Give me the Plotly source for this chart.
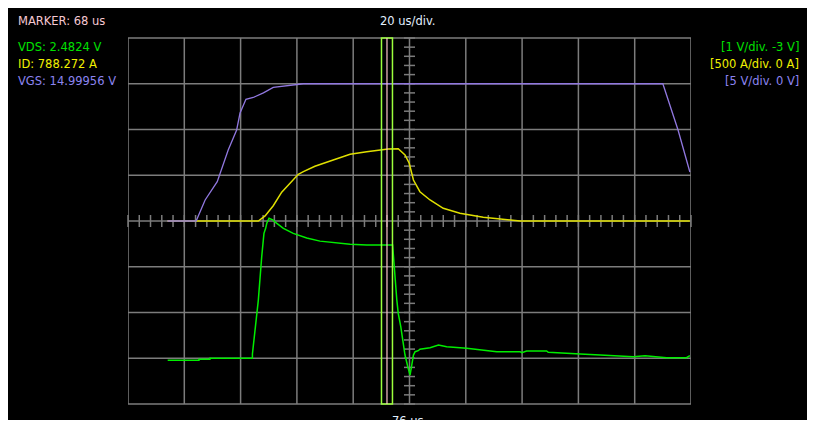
import plotly.graph_objects as go

# ---------------- data ----------------
vds_t = [-9.9, 1.2, 1.2, 5.1, 5.1, 20.2, 20.2, 20.5, 20.9, 21.2, 21.6, 21.9, 22.3, 23.5, 23.8,
         24.1, 24.3, 24.9, 25.3, 26.1, 27.6, 28.2, 31.2, 34.7, 39.5, 44.2, 48.9, 54.9, 60.8,
         70.0, 71.5, 72.0, 72.9, 73.6, 74.4, 75.4, 76.2, 76.8, 77.4, 78.0, 79.1, 79.7, 82.1,
         83.3, 86.3, 89.2, 96.3, 99.8, 103.4, 107.0, 115.3, 115.9, 117.6, 124.7, 125.3, 130.6,
         136.6, 143.7, 147.2, 155.5, 159.7, 167.3, 174.4, 175.6]
vds_v = [-0.045, -0.045, -0.023, -0.023, 0.0, 0.0, 0.093, 0.25, 0.44, 0.62, 0.80, 1.02, 1.27,
         2.22, 2.37, 2.58, 2.73, 2.84, 2.95, 3.06, 3.02, 2.98, 2.84, 2.73, 2.63, 2.56, 2.53,
         2.49, 2.475, 2.475, 1.27, 0.98, 0.69, 0.40, 0.07, -0.185, -0.37, -0.15, 0.07, 0.143,
         0.165, 0.196, 0.217, 0.231, 0.29, 0.252, 0.217, 0.196, 0.165, 0.143, 0.143, 0.121,
         0.158, 0.158, 0.13, 0.108, 0.093, 0.071, 0.056, 0.034, 0.056, 0.012, 0.012, 0.056]

id_t = [-10.0, 22.3, 24.7, 27.6, 30.6, 34.2, 36.5, 38.3, 42.4, 48.9, 54.9, 60.8, 66.7, 68.4,
        72.0, 74.4, 75.9, 77.4, 79.7, 83.3, 88.0, 93.9, 102.2, 108.1, 115.3, 175.6]
id_a = [0, 0, 55, 167, 315, 432, 510, 539, 598, 667, 729, 757, 784, 788,
        790, 721, 631, 448, 320, 230, 139, 84, 40, 19, 0, 0]

vgs_t = [-10.0, 0.2, 3.4, 7.7, 11.6, 14.6, 15.8, 17.9, 20.5, 24.1, 27.6, 33.0, 38.3,
         166.0, 171.4, 175.6]
vgs_v = [0, 0, 2.3, 4.3, 7.76, 9.95, 11.8, 13.3, 13.5, 14.0, 14.6, 14.83, 15.0,
         15.0, 9.95, 5.36]

marker_t = 68.0
marker_half = 1.95
center_t = 76.0
us_per_div = 20.0

left_labels = ["VDS: 2.4824 V", "ID: 788.272 A", "VGS: 14.99956 V"]
right_labels = ["[1 V/div. -3 V]", "[500 A/div. 0 A]", "[5 V/div. 0 V]"]

# ---------------- style ----------------
GREEN = "#00ee00"
YELLOW = "#e0e000"
PURPLE = "#9178e0"
GREEN_T = "#00e000"
YELLOW_T = "#f0f000"
PURPLE_T = "#8c84f0"
GRID = "#7c7c7c"
FONT = "DejaVu Sans"

W, H = 802, 412
ML, MR, MT, MB = 120, 119, 30, 16
PW, PH = W - ML - MR, H - MT - MB


def px(page_x):
    return (page_x - 8 - ML) / PW


def py(page_y):
    return (H - MB - (page_y - 8)) / PH


x0 = center_t - 5 * us_per_div
x1 = center_t + 5 * us_per_div

fig = go.Figure()
fig.add_trace(go.Scatter(x=vds_t, y=vds_v, mode="lines", yaxis="y",
                         line=dict(color=GREEN, width=1.5), hoverinfo="skip"))
fig.add_trace(go.Scatter(x=id_t, y=id_a, mode="lines", yaxis="y2",
                         line=dict(color=YELLOW, width=1.5), hoverinfo="skip"))
fig.add_trace(go.Scatter(x=vgs_t, y=vgs_v, mode="lines", yaxis="y3",
                         line=dict(color=PURPLE, width=1.3), hoverinfo="skip"))

shapes = []
# grid
for k in range(11):
    shapes.append(dict(type="line", xref="x", yref="paper", x0=x0 + k * us_per_div,
                       x1=x0 + k * us_per_div, y0=0, y1=1, layer="below",
                       line=dict(color=GRID, width=1.5)))
for k in range(9):
    shapes.append(dict(type="line", xref="paper", yref="paper", x0=0, x1=1,
                       y0=k / 8, y1=k / 8, layer="below",
                       line=dict(color=GRID, width=1.5)))
# minor ticks on centre axes
for k in range(51):
    xv = k / 50
    shapes.append(dict(type="line", xref="paper", yref="paper", x0=xv, x1=xv,
                       y0=0.5 - 6 / PH, y1=0.5 + 6 / PH, layer="below",
                       line=dict(color=GRID, width=1.5)))
for k in range(41):
    yv = k / 40
    shapes.append(dict(type="line", xref="paper", yref="paper", x0=0.5 - 5.5 / PW,
                       x1=0.5 + 5.5 / PW, y0=yv, y1=yv, layer="below",
                       line=dict(color=GRID, width=1.5)))
# marker window
shapes.append(dict(type="rect", xref="x", yref="paper", x0=marker_t - marker_half,
                   x1=marker_t + marker_half, y0=0, y1=1, layer="above",
                   line=dict(color="#9cff3c", width=1.5)))
shapes.append(dict(type="line", xref="x", yref="paper", x0=marker_t, x1=marker_t,
                   y0=0, y1=1, layer="above", line=dict(color="#ffc4cc", width=1.2)))

ann = []
ann.append(dict(text="MARKER: 68 us", x=px(16), y=py(21), xanchor="left",
                font=dict(color="#f6c8d2")))
ann.append(dict(text="20 us/div.", x=px(408), y=py(21), xanchor="center",
                font=dict(color="#e2f0ff")))
cols = [GREEN_T, YELLOW_T, PURPLE_T]
ys = [47, 64, 81]
for lab, c, yy in zip(left_labels, cols, ys):
    ann.append(dict(text=lab, x=px(16), y=py(yy), xanchor="left", font=dict(color=c)))
for lab, c, yy in zip(right_labels, cols, ys):
    ann.append(dict(text=lab, x=px(801), y=py(yy), xanchor="right", font=dict(color=c)))
ann.append(dict(text="76 us", x=px(408), y=py(421), xanchor="center",
                font=dict(color="#e2f0ff")))
for a in ann:
    a.update(xref="paper", yref="paper", showarrow=False, yanchor="middle")
    a["font"].update(family=FONT, size=11.5)

hidden = dict(showgrid=False, zeroline=False, showticklabels=False, ticks="",
              showline=False, fixedrange=True)
fig.update_layout(
    width=W, height=H, margin=dict(l=ML, r=MR, t=MT, b=MB, pad=0),
    paper_bgcolor="black", plot_bgcolor="black", showlegend=False,
    xaxis=dict(range=[x0, x1], **hidden),
    yaxis=dict(range=[-1, 7], **hidden),
    yaxis2=dict(range=[-2000, 2000], overlaying="y", **hidden),
    yaxis3=dict(range=[-20, 20], overlaying="y", **hidden),
    shapes=shapes, annotations=ann,
)
fig.write_html("out.html")
